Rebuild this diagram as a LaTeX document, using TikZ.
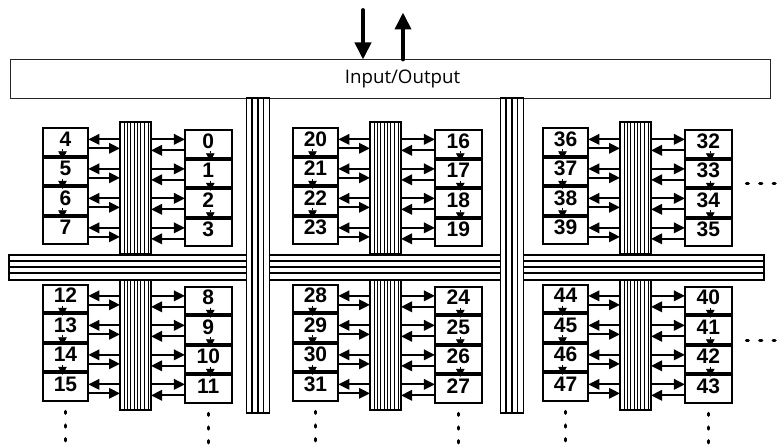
\documentclass[tikz,border=0pt]{standalone}
\usepackage{fontspec}
\setmainfont{Liberation Sans}[BoldFont={Liberation Sans Bold}]
\newfontfamily\numfont{Liberation Sans Bold}
\newfontfamily\iofont{Open Sans}
\usetikzlibrary{arrows.meta}
\begin{document}
\begin{tikzpicture}[x=1pt,y=-1pt,
  pe/.style={draw=black, line width=2pt, fill=white, inner sep=0pt, outer sep=0pt,
    minimum width=45.6pt, minimum height=27.5pt,
    font=\numfont\fontsize{21}{20}\selectfont, text depth=6pt},
  pewide/.style={pe, minimum width=46.7pt},
  lbus/.style={draw=black, line width=1.5pt, fill=white, inner sep=0pt, outer sep=0pt,
    minimum width=31pt,
    path picture={
      \foreach \dx in {4,7.4,10.7,17.4,20.7,24,28}{
        \draw[line width=0.8pt] ([xshift=\dx pt]path picture bounding box.north west) --
          ([xshift=\dx pt]path picture bounding box.south west);}
      \draw[line width=1.5pt] ([xshift=14.7pt]path picture bounding box.north west) --
          ([xshift=14.7pt]path picture bounding box.south west);
    }},
  mbus/.style={draw=black, line width=1.8pt, fill=white, inner sep=0pt, outer sep=0pt,
    minimum width=23pt,
    path picture={
      \foreach \dx in {5.4,11.2,17}{
        \draw[line width=1.8pt] ([xshift=\dx pt]path picture bounding box.north west) --
          ([xshift=\dx pt]path picture bounding box.south west);}
    }},
  hbus/.style={draw=black, line width=1.8pt, fill=white, inner sep=0pt, outer sep=0pt,
    minimum height=25pt,
    path picture={
      \foreach \dy in {6,12,18.3}{
        \draw[line width=1.8pt] ([yshift=-\dy pt]path picture bounding box.north west) --
          ([yshift=-\dy pt]path picture bounding box.north east);}
    }},
  iobox/.style={draw=black!85, line width=0.8pt, inner sep=0pt, outer sep=0pt,
    minimum width=760pt, minimum height=38.5pt},
  arr/.style={line width=1.8pt, -{Triangle[length=11pt,width=10.5pt]}},
  tri/.style={line width=0.6pt, -{Triangle[length=8pt,width=8.5pt]}},
  bigarr/.style={line width=3.8pt, line cap=round, -{Triangle[length=17pt,width=16pt]}},
  vdots/.style={line width=3.2pt, line cap=round, dash pattern=on 2pt off 11.7pt},
  hdots/.style={line width=3.2pt, line cap=round, dash pattern=on 2pt off 11.4pt}
]
\useasboundingbox (0,0) rectangle (777,446);

% Input/Output
\node[iobox] (io) at (390,78.75) {};
\node[font=\iofont\fontsize{18.7}{20}\selectfont, inner sep=0pt] (iotxt) at (402.5,78.5) {Input/Output};
\coordinate (inTop) at (363,10);
\coordinate (outTop) at (403,12.5);
\draw[bigarr] (inTop) -- (inTop |- io.north);
\draw[bigarr] (outTop |- io.north) -- (outTop);

% horizontal bus
\node[hbus, minimum width=755pt] (hb) at (386.5,267.5) {};

% local buses
\foreach \c in {0,1,2} {
  \node[lbus, minimum height=132pt] (lb\c0) at ({135.5+250*\c},188) {};
  \node[lbus, minimum height=130pt] (lb\c1) at ({135.5+250*\c},345) {};
}

% main vertical buses
\node[mbus, minimum height=315pt] (mv1) at (258,255.5) {};
\node[mbus, minimum height=315pt] (mv2) at (512,255.5) {};

% processing elements
\foreach \c in {0,1,2} {
  \foreach \r in {0,1} {
    \foreach \k in {0,...,3} {
      \pgfmathtruncatemacro\nR{16*\c+8*\r+\k}
      \pgfmathtruncatemacro\nL{16*\c+8*\r+4+\k}
      \node[pe] (b\nL) at ({65.5+250*\c},{142.1+29.5*\k+156.5*\r}) {\nL};
      \node[pewide] (b\nR) at ({208.3+250*\c},{144.1+29.5*\k+156.5*\r}) {\nR};
    }
  }
}

% connectors
\foreach \c in {0,1,2} {
  \foreach \r in {0,1} {
    \foreach \k in {0,...,3} {
      \pgfmathtruncatemacro\nR{16*\c+8*\r+\k}
      \pgfmathtruncatemacro\nL{16*\c+8*\r+4+\k}
      \coordinate (inL\nL) at ([yshift=-11pt]b\nL.north east);
      \coordinate (outL\nL) at ([yshift=-20pt]b\nL.north east);
      \draw[arr] (lb\c\r.west |- inL\nL) -- (inL\nL);
      \draw[arr] (outL\nL) -- (lb\c\r.west |- outL\nL);
      \coordinate (inR\nR) at ([yshift=-9pt]b\nR.north west);
      \coordinate (outR\nR) at ([yshift=-20pt]b\nR.north west);
      \draw[arr] (lb\c\r.east |- inR\nR) -- (inR\nR);
      \draw[arr] (outR\nR) -- (lb\c\r.east |- outR\nR);
      \ifnum\k<3
        \pgfmathtruncatemacro\nLn{\nL+1}
        \pgfmathtruncatemacro\nRn{\nR+1}
        \draw[tri] ([xshift=-3pt,yshift=6.5pt]b\nL.south) -- ([xshift=-3pt,yshift=-1.5pt]b\nLn.north);
        \draw[tri] ([xshift=2pt,yshift=6.5pt]b\nR.south) -- ([xshift=2pt,yshift=-1.5pt]b\nRn.north);
      \fi
    }
  }
}

% continuation dots
\foreach \c in {0,1,2} {
  \pgfmathtruncatemacro\nL{16*\c+15}
  \pgfmathtruncatemacro\nR{16*\c+11}
  \draw[vdots] ([yshift=-10.5pt]b\nL.south) -- ++(0,33);
  \draw[vdots] ([yshift=-10.5pt]b\nR.south) -- ++(0,33);
}
\draw[hdots] ([xshift=14.7pt,yshift=-10pt]b33.east) -- ++(34,0);
\draw[hdots] ([xshift=14.7pt,yshift=-10.5pt]b41.east) -- ++(34,0);
\end{tikzpicture}
\end{document}
